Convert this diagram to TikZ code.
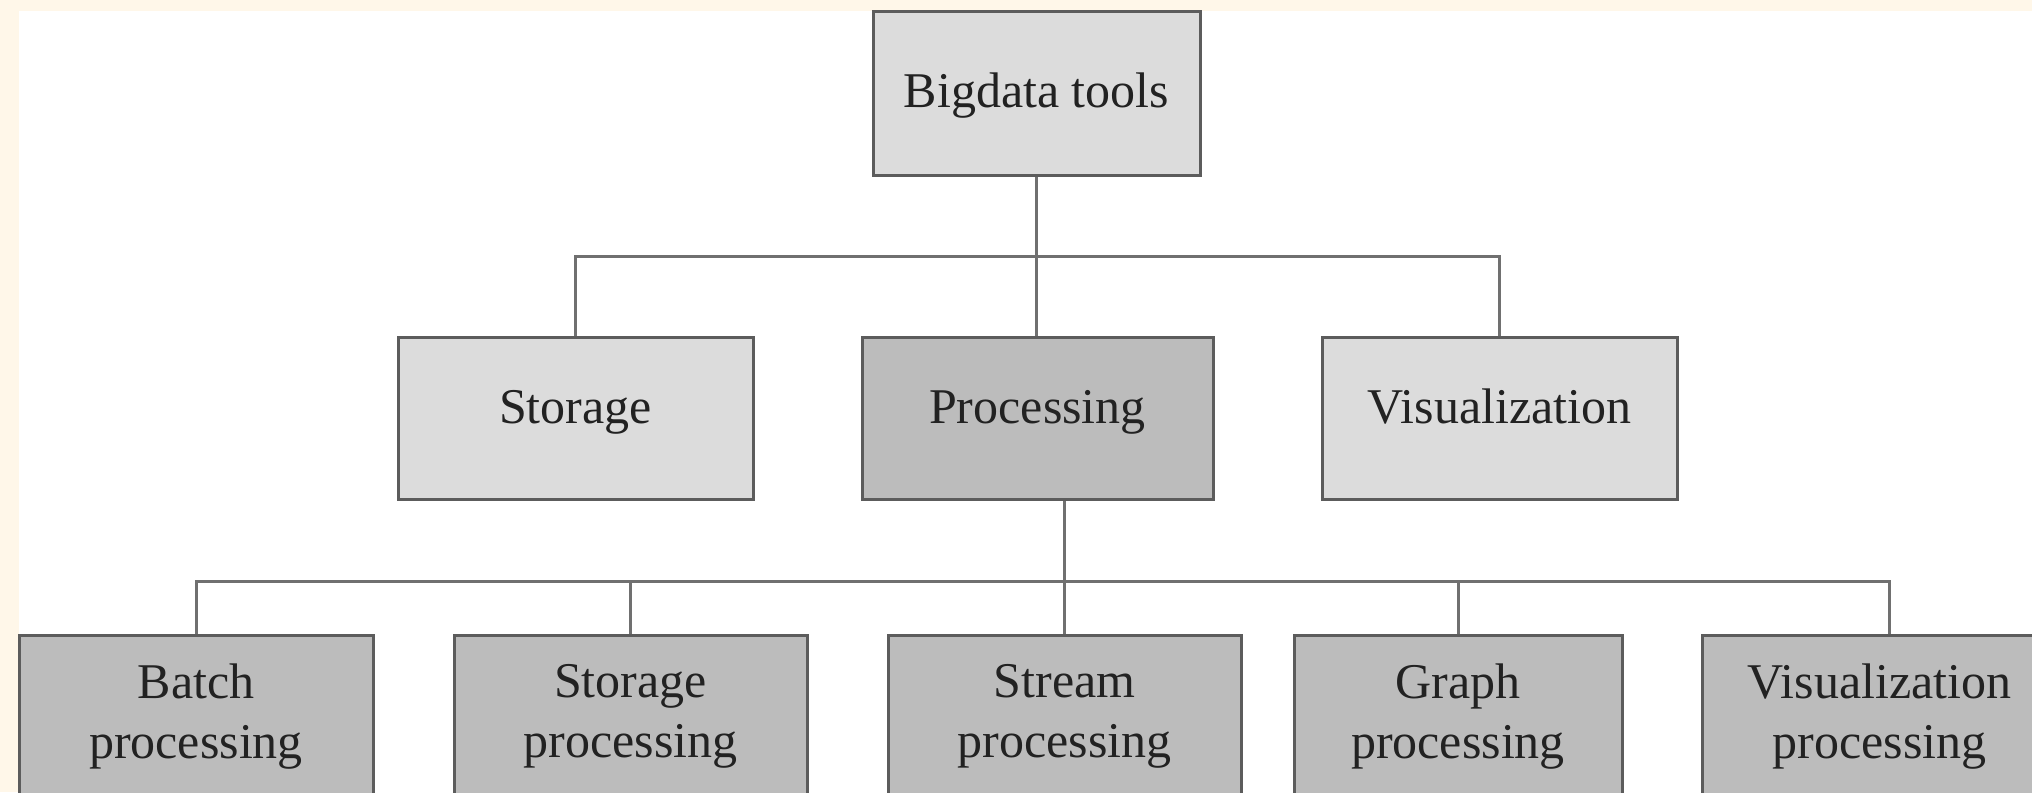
\documentclass[tikz,border=0pt]{standalone}
\usepackage{fontspec}
\setmainfont{Liberation Serif}
\definecolor{cream}{HTML}{FFF7E9}
\definecolor{boxline}{HTML}{5C5C5C}
\definecolor{connc}{HTML}{707070}
\definecolor{lightfill}{HTML}{DCDCDC}
\definecolor{darkfill}{HTML}{BCBCBC}
\definecolor{textc}{HTML}{222222}
\begin{document}
\begin{tikzpicture}[x=0.5pt,y=-0.5pt,
  box/.style={draw=boxline,line width=1.5pt,rectangle,inner sep=0pt,align=center,
    font=\fontsize{25}{30}\selectfont,text=textc},
  lightbox/.style={box,fill=lightfill},
  darkbox/.style={box,fill=darkfill},
  midtext/.style={text height=12pt,text depth=7pt},
  conn/.style={draw=connc,line width=1.5pt}]
\fill[cream] (0,0) rectangle (2032,792);
\fill[white] (19,11) rectangle (2032,792);
\useasboundingbox (0,0) rectangle (2032,792);
% top
\node[lightbox,minimum width=163.5pt,minimum height=81.5pt,text height=17pt,text depth=2.5pt] (top) at (1036.5,93.5) {Bigdata tools};
% middle
\node[lightbox,midtext,minimum width=177.5pt,minimum height=81pt] (stor) at (575.5,418) {Storage};
\node[darkbox,midtext,minimum width=175.5pt,minimum height=81pt] (proc) at (1037.5,418) {Processing};
\node[lightbox,midtext,minimum width=177.5pt,minimum height=81pt] (vis) at (1499.5,418) {Visualization};
% bottom
\node[darkbox,minimum width=177pt,minimum height=81.5pt] (batch) at (196,716.5) {Batch\\processing};
\node[darkbox,minimum width=176.5pt,minimum height=81.5pt] (sproc) at (630.5,716.5) {Storage\\processing};
\node[darkbox,minimum width=176.5pt,minimum height=81.5pt] (stream) at (1064.5,716.5) {Stream\\processing};
\node[darkbox,minimum width=164pt,minimum height=81.5pt] (graph) at (1458,716.5) {Graph\\processing};
\node[darkbox,minimum width=177.5pt,minimum height=81.5pt] (vproc) at (1879.5,716.5) {Visualization\\processing};
% buses
\coordinate (bus1) at (0,256);
\coordinate (bus2) at (0,581);
\coordinate (vpc) at ([xshift=4.75pt]vproc.north);
% upper connectors
\draw[conn] (top.south) -- (top.south |- proc.north);
\draw[conn] (stor.north) -- (stor.north |- bus1) -- (vis.north |- bus1) -- (vis.north);
% lower connectors
\draw[conn] (proc.south -| stream.north) -- (stream.north);
\draw[conn] (batch.north) -- (batch.north |- bus2) -- (vpc |- bus2) -- (vpc);
\draw[conn] (sproc.north) -- (sproc.north |- bus2);
\draw[conn] (graph.north) -- (graph.north |- bus2);
\end{tikzpicture}
\end{document}
